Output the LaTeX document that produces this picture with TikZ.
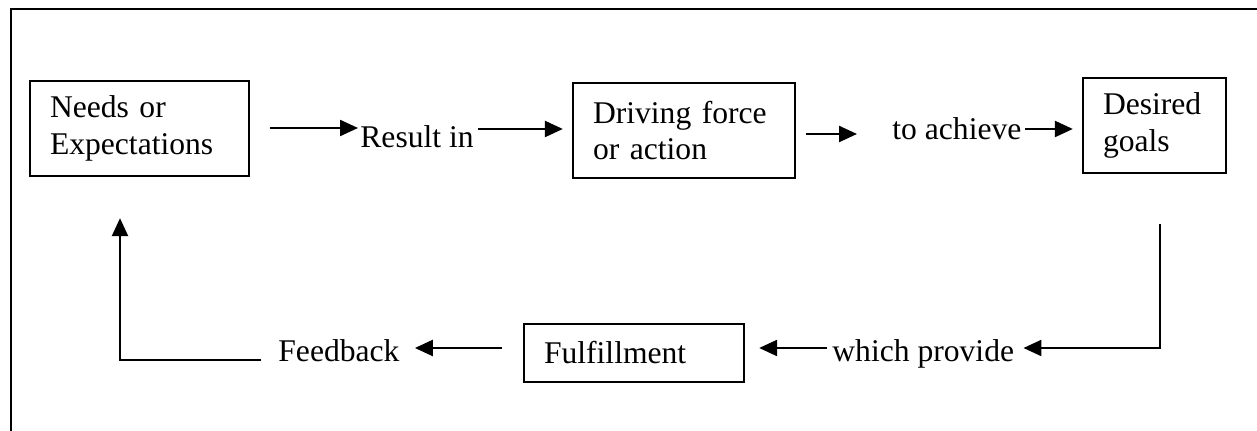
\documentclass[tikz,border=0pt]{standalone}
\usepackage{fontspec}
\setmainfont{Liberation Serif}
\usetikzlibrary{arrows.meta}
\tikzset{
  txt/.style={font=\fontsize{15.8pt}{18.25pt}\selectfont},
  lbl/.style={txt, inner sep=0pt, anchor=base west},
  box/.style={txt, draw, line width=1.15pt, inner xsep=10pt, inner ysep=0pt, align=left},
  arr/.style={line width=1.15pt, -{Triangle[length=9pt,width=8pt]}},
  frame/.style={line width=1.3pt}
}
\begin{document}
\begin{tikzpicture}[x=0.5pt,y=-0.5pt]
\fill[white] (0,0) rectangle (1257,431);
\useasboundingbox (0,0) rectangle (1257,431);
% outer frame
\draw[frame] (11,431) -- (11,9) -- (1257,9);
% boxes
\node[box, text width=89.5pt, minimum height=47.5pt] (needs) at (139.5,128.5) {Needs or\\Expectations};
\node[box, text width=91pt, minimum height=47.5pt] (drive) at (684,130.5) {Driving force\\or action};
\node[box, text width=51.5pt, minimum height=47.5pt] (goals) at (1154.5,125.5) {Desired\\goals};
\node[box, text width=90pt, minimum height=29pt] (ful) at (634,353) {Fulfillment};
% labels
\node[lbl] (res) at (360,148) {Result in};
\node[lbl] (ach) at (892,140) {to achieve};
\node[lbl] (fb) at (278,362) {Feedback};
\node[lbl] (prov) at (832,362) {which provide};
% corner coordinates
\coordinate (c1) at (1160,224);
\coordinate (c2) at (1160,348);
\coordinate (c3) at (120,360);
% top row connectors
\draw[arr, shorten <=10pt, shorten >=1pt] ([yshift=0.25pt]needs.east) -- ([yshift=0.25pt]needs.east -| res.west);
\draw[arr, shorten <=2pt, shorten >=4.5pt] ([yshift=0.75pt]drive.west -| res.east) -- ([yshift=0.75pt]drive.west);
\draw[arr, shorten <=5pt, shorten >=17.5pt] ([yshift=-1.75pt]drive.east) -- ([yshift=-1.75pt]drive.east -| ach.west);
\draw[arr, shorten <=1.5pt, shorten >=4.5pt] ([yshift=-1.75pt]goals.west -| ach.east) -- ([yshift=-1.75pt]goals.west);
% bottom row connectors
\draw[arr, line join=miter, shorten >=4.5pt] (c1) -- (c2) -- (c2 -| prov.east);
\draw[arr, shorten <=2.5pt, shorten >=7pt] (c2 -| prov.west) -- (c2 -| ful.east);
\draw[arr, shorten <=10.5pt, shorten >=7.5pt] (c2 -| ful.west) -- (c2 -| fb.east);
\draw[arr, line join=miter, shorten <=8.5pt, shorten >=20.5pt] (c3 -| fb.west) -- (c3) -- (c3 |- needs.south);
\end{tikzpicture}
\end{document}
